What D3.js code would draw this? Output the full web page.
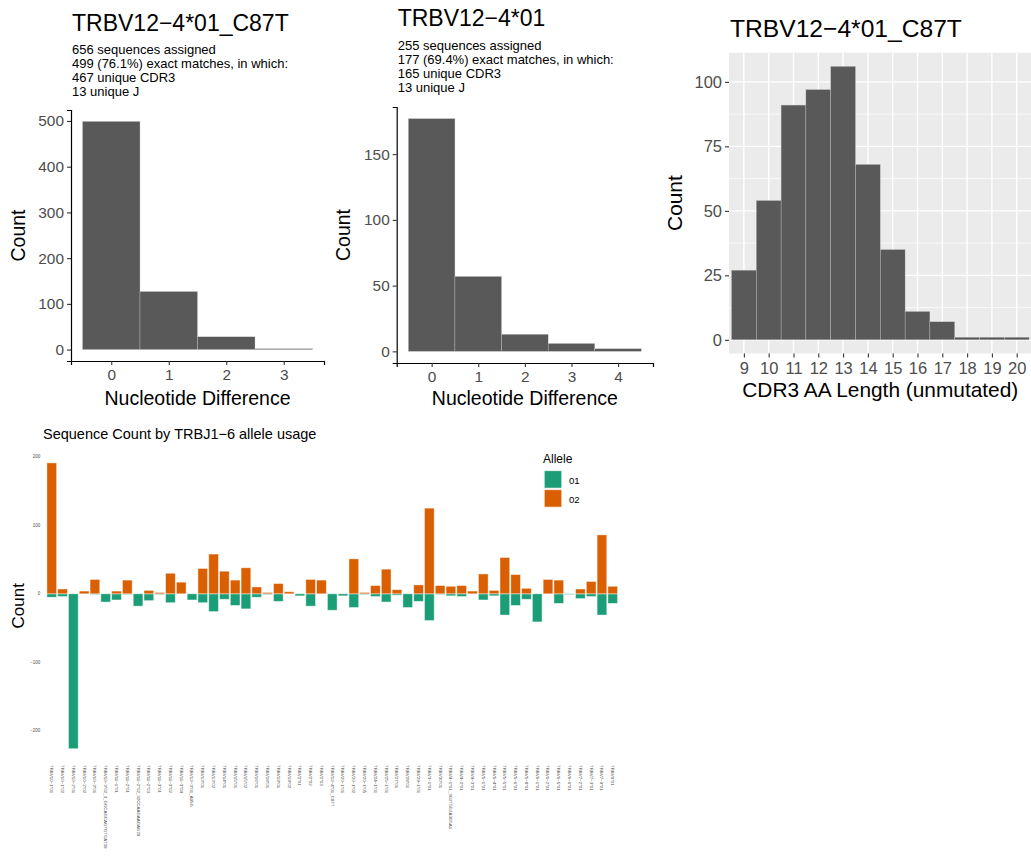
<!DOCTYPE html>
<html>
<head>
<meta charset="utf-8">
<script src="https://cdn.jsdelivr.net/npm/d3@7"></script>
<style>
  body { margin: 0; background: #fff; }
  svg { display: block; font-family: "Liberation Sans", Arial, Helvetica, sans-serif; }
</style>
</head>
<body>
<svg id="chart" width="1031" height="856"></svg>
<script>
"use strict";

// ---- data ----
const nucDiffNovel = [0, 1, 2, 3];
const nucDiffNovelCounts = [499, 127, 28, 2];
const novelYTicks = [0, 100, 200, 300, 400, 500];
const novelSubtitle = ["656 sequences assigned", "499 (76.1%) exact matches, in which:", "467 unique CDR3", "13 unique J"];

const nucDiffRef = [0, 1, 2, 3, 4];
const nucDiffRefCounts = [177, 57, 13, 6, 2];
const refYTicks = [0, 50, 100, 150];
const refSubtitle = ["255 sequences assigned", "177 (69.4%) exact matches, in which:", "165 unique CDR3", "13 unique J"];

const cdr3Lengths = [9, 10, 11, 12, 13, 14, 15, 16, 17, 18, 19, 20];
const cdr3Counts = [27, 54, 91, 97, 106, 68, 35, 11, 7, 1, 1, 1];
const cdr3YTicks = [0, 25, 50, 75, 100];

const vAlleles = [
  "TRBV10−1*01", "TRBV10−1*02", "TRBV10−2*01", "TRBV10−2*02", "TRBV10−3*01",
  "TRBV10−3*02_3_GGCAGCAGTGTCAT39", "TRBV11−1*01", "TRBV11−2*01",
  "TRBV11−2*02_32CCAAGAAGAG29", "TRBV11−2*03", "TRBV11−3*01", "TRBV11−3*02",
  "TRBV11−3*04", "TRBV12−3*01_A95G", "TRBV13*01", "TRBV13*02", "TRBV14*01",
  "TRBV15*01", "TRBV15*02", "TRBV16*01", "TRBV18*01", "TRBV19*01", "TRBV19*02",
  "TRBV2*01", "TRBV2*02", "TRBV2*03", "TRBV12−4*01_C87T", "TRBV20−1*01",
  "TRBV20−1*02", "TRBV20−1*05", "TRBV24−1*01", "TRBV25−1*01", "TRBV27*01",
  "TRBV28*01", "TRBV29−1*01", "TRBV3−1*01", "TRBV30*01", "TRBV4−1*01_3G2T5G2A3G5A1",
  "TRBV4−2*01", "TRBV4−3*01", "TRBV5−1*01", "TRBV5−4*01", "TRBV5−5*01",
  "TRBV5−6*01", "TRBV5−8*01", "TRBV6−1*01", "TRBV6−2*01", "TRBV6−5*01",
  "TRBV6−6*01", "TRBV7−2*01", "TRBV7−3*01", "TRBV7−9*01", "TRBV9*01"
];
// TRBJ1-6*01 counts drawn downward, TRBJ1-6*02 counts upward
const allele01Counts = [5, 4, 226, 0, 1, 12, 9, 1, 18, 10, 1, 13, 0, 9, 13, 26, 8, 17, 22, 5, 1, 11,
  0, 3, 18, 0, 24, 3, 20, 1, 4, 12, 2, 20, 11, 39, 1, 3, 4, 0, 9, 3, 31, 17, 8, 41, 0, 14, 1, 7, 4, 31, 14];
const allele02Counts = [191, 7, 0, 4, 21, 0, 4, 20, 0, 5, 2, 30, 17, 0, 37, 58, 33, 20, 38, 10, 2, 15,
  3, 0, 21, 20, 0, 0, 51, 2, 12, 36, 6, 0, 13, 125, 12, 11, 12, 4, 29, 5, 53, 28, 8, 0, 21, 20, 0, 7, 18, 86, 11];
const alleleYTicks = [-200, -100, 0, 100, 200];
const alleleNames = ["01", "02"];
const alleleColors = ["#1B9E77", "#D95F02"];

const svg = d3.select("#chart");

// ---- top histograms ----
function histPanel(opts) {
  const g = svg.append("g");
  const fs = opts.fontScale;
  const x = d3.scaleLinear().domain(opts.xDomain).range([opts.left, opts.right]);
  const yMax = d3.max(opts.counts);
  const y = d3.scaleLinear().domain([-0.05 * yMax, yMax * 1.05]).range([opts.bottom, opts.top]);

  if (opts.grey) {
    g.append("rect").attr("x", opts.left).attr("y", opts.top)
      .attr("width", opts.right - opts.left).attr("height", opts.bottom - opts.top)
      .attr("fill", "#EBEBEB");
    const half = (opts.yTicks[1] - opts.yTicks[0]) / 2;
    const minorY = opts.yTicks.map((d) => d + half).filter((d) => y(d) > opts.top);
    g.selectAll(".minor").data(minorY).enter().append("line")
      .attr("x1", opts.left).attr("x2", opts.right)
      .attr("y1", (d) => y(d)).attr("y2", (d) => y(d))
      .attr("stroke", "#fff").attr("stroke-width", 0.7);
    g.selectAll(".majorY").data(opts.yTicks).enter().append("line")
      .attr("x1", opts.left).attr("x2", opts.right)
      .attr("y1", (d) => y(d)).attr("y2", (d) => y(d))
      .attr("stroke", "#fff").attr("stroke-width", 1.4);
    g.selectAll(".majorX").data(opts.xTicks).enter().append("line")
      .attr("x1", (d) => x(d)).attr("x2", (d) => x(d))
      .attr("y1", opts.top).attr("y2", opts.bottom)
      .attr("stroke", "#fff").attr("stroke-width", 1.4);
  }

  g.selectAll(".bar").data(opts.bins).enter().append("rect")
    .attr("x", (d) => x(d - 0.5))
    .attr("width", (d) => x(d + 0.5) - x(d - 0.5))
    .attr("y", (d, i) => y(opts.counts[i]))
    .attr("height", (d, i) => Math.max(0.8, y(0) - y(opts.counts[i])))
    .attr("fill", "#595959")
    .attr("stroke", "#c8c8c8").attr("stroke-width", 0.35);

  const yAxis = g.append("g").attr("transform", `translate(${opts.left},0)`)
    .call(d3.axisLeft(y).tickValues(opts.yTicks).tickFormat(d3.format("d")).tickSize(4).tickPadding(3));
  const xAxis = g.append("g").attr("transform", `translate(0,${opts.bottom})`)
    .call(d3.axisBottom(x).tickValues(opts.xTicks).tickFormat(d3.format("d")).tickSize(4).tickPadding(3));
  [yAxis, xAxis].forEach((ax) => {
    ax.selectAll("text").attr("fill", "#4D4D4D").style("font-size", 15.4 * fs + "px");
    ax.selectAll(".tick line").attr("stroke", "#333").attr("stroke-width", 1.1);
    ax.select(".domain").attr("stroke", opts.grey ? "none" : "#000").attr("stroke-width", 1.2);
  });
  xAxis.selectAll("text").attr("dy", null).attr("y", 19 * fs);

  g.append("text").attr("x", (opts.left + opts.right) / 2).attr("y", opts.bottom + opts.xTitleGap)
    .attr("text-anchor", "middle").style("font-size", 19.5 * fs + "px").text(opts.xTitle);
  g.append("text")
    .attr("transform", `translate(${opts.yTitleX},${(opts.top + opts.bottom) / 2}) rotate(-90)`)
    .attr("text-anchor", "middle").attr("dy", "0.35em")
    .style("font-size", 19.5 * fs + "px").text("Count");

  g.append("text").attr("x", opts.left + 1).attr("y", opts.titleY)
    .style("font-size", 23 * fs + "px").text(opts.title);
  (opts.subtitle || []).forEach((s, i) => {
    g.append("text").attr("x", opts.left + 1).attr("y", opts.titleY + 23.6 + i * 13.9)
      .style("font-size", "13px").text(s);
  });
}

histPanel({
  bins: nucDiffNovel, counts: nucDiffNovelCounts, xTicks: nucDiffNovel, yTicks: novelYTicks,
  xDomain: [-0.7, 3.7], left: 71, right: 324, top: 110, bottom: 361,
  title: "TRBV12−4*01_C87T", titleY: 30.7, subtitle: novelSubtitle,
  xTitle: "Nucleotide Difference", xTitleGap: 43.5, yTitleX: 18.5, fontScale: 1
});

histPanel({
  bins: nucDiffRef, counts: nucDiffRefCounts, xTicks: nucDiffRef, yTicks: refYTicks,
  xDomain: [-0.75, 4.75], left: 396.7, right: 653, top: 107, bottom: 363,
  title: "TRBV12−4*01", titleY: 26.3, subtitle: refSubtitle,
  xTitle: "Nucleotide Difference", xTitleGap: 42, yTitleX: 343, fontScale: 1
});

histPanel({
  bins: cdr3Lengths, counts: cdr3Counts, xTicks: cdr3Lengths, yTicks: cdr3YTicks,
  xDomain: [8.4, 20.6], left: 729, right: 1031.6, top: 52.7, bottom: 353.5,
  title: "TRBV12−4*01_C87T", titleY: 37, grey: true,
  xTitle: "CDR3 AA Length (unmutated)", xTitleGap: 43.5, yTitleX: 675, fontScale: 1.07
});

// ---- bottom: allele usage ----
const bLeft = 45.3, bRight = 619.2, bTop = 448.6, bBottom = 763;
const xb = d3.scalePoint().domain(vAlleles).range([bLeft, bRight]).padding(0.6);
const step = xb.step();
const lo = -d3.max(allele01Counts), hi = d3.max(allele02Counts);
const pad = (hi - lo) * 0.05;
const yb = d3.scaleLinear().domain([lo - pad, hi + pad]).range([bBottom, bTop]);

const barRows = [];
vAlleles.forEach((v, i) => {
  if (allele01Counts[i] > 0) barRows.push({ v: v, a: 0, lo: -allele01Counts[i], hi: 0 });
  if (allele02Counts[i] > 0) barRows.push({ v: v, a: 1, lo: 0, hi: allele02Counts[i] });
});

const bottom = svg.append("g");
bottom.selectAll("rect.bar").data(barRows).enter().append("rect")
  .attr("class", "bar")
  .attr("x", (d) => xb(d.v) - step * 0.45)
  .attr("width", step * 0.9)
  .attr("y", (d) => yb(d.hi))
  .attr("height", (d) => Math.max(0.6, yb(d.lo) - yb(d.hi)))
  .attr("fill", (d) => alleleColors[d.a])
  .attr("stroke", "#fff").attr("stroke-opacity", 0.55).attr("stroke-width", 0.8);

bottom.selectAll("text.ytick").data(alleleYTicks).enter().append("text")
  .attr("x", bLeft - 5).attr("y", (d) => yb(d)).attr("dy", "0.35em")
  .attr("text-anchor", "end").attr("fill", "#4D4D4D").style("font-size", "4.5px")
  .text((d) => String(d).replace("-", "−"));

bottom.selectAll("text.xtick").data(vAlleles).enter().append("text")
  .attr("transform", (d) => `translate(${xb(d)},${bBottom + 2}) rotate(90)`)
  .attr("dy", "0.35em").attr("fill", "#4D4D4D").style("font-size", "4.4px")
  .text((d) => d);

bottom.append("text").attr("x", 43).attr("y", 438.5).style("font-size", "14.5px")
  .text("Sequence Count by TRBJ1−6 allele usage");
bottom.append("text")
  .attr("transform", `translate(18,${(bTop + bBottom) / 2}) rotate(-90)`)
  .attr("text-anchor", "middle").attr("dy", "0.35em").style("font-size", "17px").text("Count");

const legend = bottom.append("g").attr("transform", "translate(543,0)");
legend.append("text").attr("x", 0).attr("y", 463).style("font-size", "12px").text("Allele");
alleleNames.forEach((name, i) => {
  legend.append("rect").attr("x", 1.3).attr("y", 470.7 + i * 19)
    .attr("width", 17.4).attr("height", 17.4)
    .attr("fill", alleleColors[i]).attr("stroke", "#fff").attr("stroke-opacity", 0.55);
  legend.append("text").attr("x", 26).attr("y", 483.5 + i * 19)
    .style("font-size", "9.6px").text(name);
});
</script>
</body>
</html>
